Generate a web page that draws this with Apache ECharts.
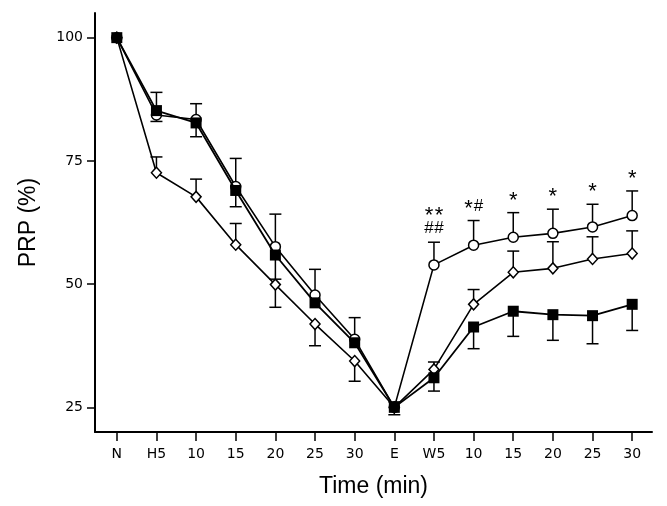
<!DOCTYPE html>
<html><head><meta charset="utf-8">
<script src="https://cdn.jsdelivr.net/npm/echarts@6/dist/echarts.min.js"></script>
<style>html,body{margin:0;padding:0;background:#fff}#c{width:667px;height:506px}</style>
</head><body><div id="c"></div>
<script>
// x tick labels (one per time point)
const categories = ['N','H5','10','15','20','25','30','E','W5','10','15','20','25','30'];
const yTicks = [25, 50, 75, 100];

// open circles
const circleValues = [100, 84.3, 83.4, 69.8, 57.6, 47.8, 38.8, 25, 53.9, 57.9, 59.5, 60.3, 61.6, 63.9];
const circleErrUp  = [0, 4.6, 3.2, 5.7, 6.6, 5.2, 4.4, 0, 4.6, 5.0, 5.0, 4.9, 4.6, 5.0];
const circleErrDn  = [0, 0, 0, 0, 0, 0, 0, 0, 0, 0, 0, 0, 0, 0];

// open diamonds
const diamondValues = [100, 72.6, 67.7, 58.0, 49.9, 41.9, 34.4, 25, 32.7, 45.9, 52.4, 53.2, 55.1, 56.2];
const diamondErrUp  = [0, 3.2, 3.6, 4.3, 0, 0, 0, 0, 1.5, 3.0, 4.3, 5.4, 4.5, 4.6];
const diamondErrDn  = [0, 0, 0, 0, 4.6, 4.4, 4.1, 0, 0, 0, 0, 0, 0, 0];

// filled squares
const squareValues = [100, 85.2, 82.7, 69.0, 55.9, 46.2, 38.1, 25, 31.0, 41.3, 44.5, 43.8, 43.6, 45.9];
const squareErrUp  = [0, 0, 0, 0, 0, 0, 0, 1.1, 0, 0, 0, 0, 0, 0];
const squareErrDn  = [0, 2.2, 2.8, 3.3, 4.9, 0, 0, 1.5, 2.7, 4.4, 5.1, 5.2, 5.7, 5.3];

// significance marks above the open-circle series
const annotations = ['', '', '', '', '', '', '', '', '**\n##', '*#', '*', '*', '*', '*'];

const FONT = 'Liberation Sans, Arial, Helvetica, sans-serif';
const TICKFONT = 'DejaVu Sans, sans-serif';
const xIdx = categories.map((_, i) => i);

function pts(vals) { return vals.map((v, i) => [i, v]); }
function errData(vals, up, dn) { return vals.map((v, i) => [i, v, up[i], dn[i]]); }

function errRender(params, api) {
  const x = api.value(0), v = api.value(1), up = api.value(2), dn = api.value(3);
  const children = [];
  const c = api.coord([x, v]);
  const cap = 6;
  const st = {stroke: '#000', lineWidth: 1.5};
  if (up > 0) {
    const t = api.coord([x, v + up]);
    children.push({type: 'line', shape: {x1: c[0], y1: c[1], x2: t[0], y2: t[1]}, style: st});
    children.push({type: 'line', shape: {x1: t[0] - cap, y1: t[1], x2: t[0] + cap, y2: t[1]}, style: st});
  }
  if (dn > 0) {
    const b = api.coord([x, v - dn]);
    children.push({type: 'line', shape: {x1: c[0], y1: c[1], x2: b[0], y2: b[1]}, style: st});
    children.push({type: 'line', shape: {x1: b[0] - cap, y1: b[1], x2: b[0] + cap, y2: b[1]}, style: st});
  }
  return {type: 'group', children};
}

function annRender(params, api) {
  const txt = annotations[params.dataIndex];
  if (!txt) return null;
  const top = api.coord([api.value(0), api.value(1) + api.value(2)]);
  const lines = txt.split('\n');
  const children = [];
  const adv = 10;
  lines.forEach((line, li) => {
    const cy = top[1] - 15 - (lines.length - 1 - li) * 14;
    const chars = line.split('');
    const x0 = top[0] - (chars.length * adv) / 2 + adv / 2;
    chars.forEach((ch, ci) => {
      const star = ch === '*';
      children.push({type: 'text', style: {
        text: ch, x: x0 + ci * adv, y: cy + (star ? 3 : 1),
        align: 'center', verticalAlign: 'middle',
        fontSize: star ? 22 : 17, fontFamily: FONT, fill: '#000'}});
    });
  });
  return {type: 'group', children};
}

const chart = echarts.init(document.getElementById('c'), null, {renderer: 'canvas'});
chart.setOption({
  animation: false,
  backgroundColor: '#fff',
  grid: {left: 95, right: 15, top: 13, bottom: 74},
  xAxis: {
    type: 'value', min: -0.55, max: 13.5,
    name: 'Time (min)', nameLocation: 'middle', nameGap: 43,
    nameTextStyle: {fontSize: 23, fontFamily: FONT, color: '#000'},
    axisLine: {show: true, onZero: false, lineStyle: {color: '#000', width: 2}},
    axisTick: {show: true, length: 9, inside: false, customValues: xIdx, lineStyle: {color: '#000', width: 1.5}},
    axisLabel: {show: true, margin: 15, customValues: xIdx, fontSize: 14, fontFamily: TICKFONT, color: '#000',
      formatter: v => categories[Math.round(v)] ?? ''},
    splitLine: {show: false}
  },
  yAxis: {
    type: 'value', min: 20, max: 105,
    name: 'PRP (%)', nameLocation: 'middle', nameGap: 55, nameRotate: 90,
    nameTextStyle: {fontSize: 23, fontFamily: FONT, color: '#000'},
    axisLine: {show: true, onZero: false, lineStyle: {color: '#000', width: 2}},
    axisTick: {show: true, length: 8, inside: false, customValues: yTicks, lineStyle: {color: '#000', width: 1.5}},
    axisLabel: {show: true, margin: 12, customValues: yTicks, fontSize: 14, fontFamily: TICKFONT, color: '#000'},
    splitLine: {show: false}
  },
  series: [
    {type: 'custom', renderItem: errRender, data: errData(diamondValues, diamondErrUp, diamondErrDn), z: 1},
    {type: 'custom', renderItem: errRender, data: errData(circleValues, circleErrUp, circleErrDn), z: 1},
    {type: 'custom', renderItem: errRender, data: errData(squareValues, squareErrUp, squareErrDn), z: 1},
    {type: 'line', data: pts(diamondValues), symbol: 'diamond', symbolSize: [10, 11], z: 2,
      lineStyle: {color: '#000', width: 1.6}, itemStyle: {color: '#fff', borderColor: '#000', borderWidth: 1.5}},
    {type: 'line', data: pts(circleValues), symbol: 'circle', symbolSize: 10, z: 3,
      lineStyle: {color: '#000', width: 1.6}, itemStyle: {color: '#fff', borderColor: '#000', borderWidth: 1.5}},
    {type: 'line', data: pts(squareValues), symbol: 'rect', symbolSize: 11, z: 4,
      lineStyle: {color: '#000', width: 1.8}, itemStyle: {color: '#000', borderColor: '#000', borderWidth: 0}},
    {type: 'custom', renderItem: annRender, data: errData(circleValues, circleErrUp, circleErrDn), z: 5}
  ]
});
</script>
</body></html>
